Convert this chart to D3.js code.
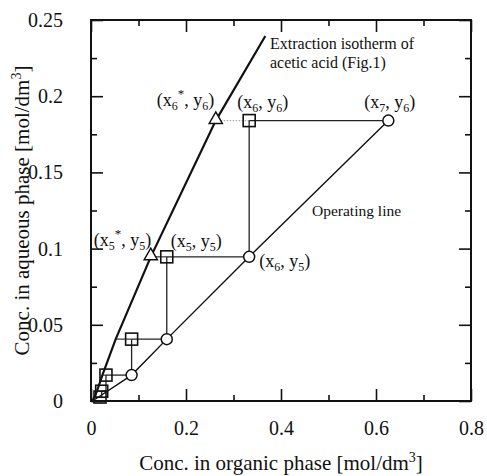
<!DOCTYPE html>
<html>
<head>
<meta charset="utf-8">
<script src="https://cdn.jsdelivr.net/npm/d3@7"></script>
<style>
  body { margin: 0; background: #fff; }
  svg text { font-family: "Liberation Serif", "DejaVu Serif", serif; fill: #111; }
</style>
</head>
<body>
<svg id="chart" width="487" height="476"></svg>
<script>
// staircase rows, top to bottom
const stepY = [0.184, 0.0946, 0.0406, 0.017, 0.0064, 0.0026];
const squareX = [0.333, 0.1595, 0.0855, 0.0315, 0.0225, 0.019];
const circleX = [0.626, 0.333, 0.1595, 0.0855];
const isoStepX = [0.2627, 0.1258, 0.052, 0.024, 0.011, 0.005];
const triangleRows = [0, 1];

// extraction isotherm
const isothermX = [0.003, 0.012, 0.024, 0.052, 0.1258, 0.2627, 0.367];
const isothermY = [0, 0.006, 0.017, 0.0406, 0.0946, 0.184, 0.2395];

// operating line
const operX = [0.008, 0.0855, 0.1595, 0.333, 0.626];
const operY = [0.001, 0.017, 0.0406, 0.0946, 0.184];

const xTicks = [0, 0.2, 0.4, 0.6, 0.8];
const xMinor = [0.1, 0.3, 0.5, 0.7];
const yTicks = [0, 0.05, 0.1, 0.15, 0.2, 0.25];
const yMinor = [0.025, 0.075, 0.125, 0.175, 0.225];

const svg = d3.select('#chart');
const pLeft = 91, pRight = 471, pTop = 20, pBottom = 401;
const serif = '"Liberation Serif", "DejaVu Serif", serif';

const x = d3.scaleLinear().domain([0, 0.8]).range([pLeft, pRight]);
const y = d3.scaleLinear().domain([0, 0.25]).range([pBottom, pTop]);

// axes with inward ticks on all four sides
const fmt = d => d === 0 ? '0' : String(d);
const addAxis = (axis, transform, labels) => {
  const g = svg.append('g').attr('transform', transform).call(axis)
    .attr('font-family', serif).attr('font-size', 20);
  g.select('.domain').remove();
  g.selectAll('line').attr('stroke', '#111').attr('stroke-width', 1.6);
  g.selectAll('text').attr('fill', '#111');
  if (!labels) g.selectAll('text').remove();
  return g;
};

addAxis(d3.axisBottom(x).tickValues(xTicks).tickSize(-12).tickPadding(20).tickFormat(fmt), `translate(0,${pBottom})`, true);
addAxis(d3.axisBottom(x).tickValues(xMinor).tickSize(-6).tickFormat(''), `translate(0,${pBottom})`, false);
addAxis(d3.axisTop(x).tickValues(xTicks).tickSize(-12).tickFormat(''), `translate(0,${pTop})`, false);
addAxis(d3.axisTop(x).tickValues(xMinor).tickSize(-6).tickFormat(''), `translate(0,${pTop})`, false);
addAxis(d3.axisLeft(y).tickValues(yTicks).tickSize(-12).tickPadding(28).tickFormat(fmt), `translate(${pLeft},0)`, true);
addAxis(d3.axisLeft(y).tickValues(yMinor).tickSize(-6).tickFormat(''), `translate(${pLeft},0)`, false);
addAxis(d3.axisRight(y).tickValues(yTicks).tickSize(-12).tickFormat(''), `translate(${pRight},0)`, false);
addAxis(d3.axisRight(y).tickValues(yMinor).tickSize(-6).tickFormat(''), `translate(${pRight},0)`, false);

svg.append('rect')
  .attr('x', pLeft).attr('y', pTop)
  .attr('width', pRight - pLeft).attr('height', pBottom - pTop)
  .attr('fill', 'none').attr('stroke', '#111').attr('stroke-width', 2);

// axis titles
svg.append('text')
  .attr('x', (pLeft + pRight) / 2).attr('y', 470)
  .attr('text-anchor', 'middle').attr('font-size', 21)
  .html('Conc. in organic phase [mol/dm<tspan dy="-8" font-size="14">3</tspan><tspan dy="8">]</tspan>');

svg.append('text')
  .attr('transform', `translate(29,${(pTop + pBottom) / 2}) rotate(-90)`)
  .attr('text-anchor', 'middle').attr('font-size', 21)
  .html('Conc. in aqueous phase [mol/dm<tspan dy="-8" font-size="14">3</tspan><tspan dy="8">]</tspan>');

const line = d3.line().x(d => x(d[0])).y(d => y(d[1]));

// isotherm
svg.append('path')
  .datum(isothermX.map((v, i) => [v, isothermY[i]]))
  .attr('d', line).attr('fill', 'none')
  .attr('stroke', '#111').attr('stroke-width', 2.2);

// operating line
svg.append('path')
  .datum(operX.map((v, i) => [v, operY[i]]))
  .attr('d', line).attr('fill', 'none')
  .attr('stroke', '#111').attr('stroke-width', 1.4);

// staircase
const stairs = svg.append('g').attr('stroke', '#222').attr('stroke-width', 1.3);
stepY.forEach((yy, i) => {
  const rx = i < circleX.length ? circleX[i] : squareX[i - 1];
  stairs.append('line')
    .attr('x1', x(rx)).attr('x2', x(squareX[i]))
    .attr('y1', y(yy)).attr('y2', y(yy));
  // extension to isotherm
  stairs.append('line')
    .attr('x1', x(squareX[i])).attr('x2', x(isoStepX[i]))
    .attr('y1', y(yy)).attr('y2', y(yy))
    .attr('stroke', i === 0 ? '#aaa' : '#222')
    .attr('stroke-dasharray', i === 0 ? '1.5,1.5' : null)
    .attr('stroke-width', i === 0 ? 1.3 : 1.1);
  if (i < stepY.length - 1) {
    stairs.append('line')
      .attr('x1', x(squareX[i])).attr('x2', x(squareX[i]))
      .attr('y1', y(yy)).attr('y2', y(stepY[i + 1]));
  }
});

// markers
svg.append('g').selectAll('circle')
  .data(circleX.map((v, i) => [v, stepY[i]]))
  .join('circle')
  .attr('cx', d => x(d[0])).attr('cy', d => y(d[1])).attr('r', 5.5)
  .attr('fill', '#fff').attr('stroke', '#111').attr('stroke-width', 1.5);

svg.append('g').selectAll('rect')
  .data(squareX.map((v, i) => [v, stepY[i]]).reverse())
  .join('rect')
  .attr('x', d => x(d[0]) - 6).attr('y', d => y(d[1]) - 6)
  .attr('width', 12).attr('height', 12)
  .attr('fill', 'none').attr('stroke', '#111').attr('stroke-width', 1.6);

const tri = d3.symbol().type(d3.symbolTriangle).size(75);
svg.append('g').selectAll('path')
  .data(triangleRows.map(i => [isoStepX[i], stepY[i]]))
  .join('path')
  .attr('d', tri)
  .attr('transform', d => `translate(${x(d[0])},${y(d[1]) - 1})`)
  .attr('fill', '#fff').attr('stroke', '#111').attr('stroke-width', 1.5);

// point labels
const labels = [
  { px: isoStepX[0], py: stepY[0], dx: -59, dy: -15, a: 'x', as: '6', star: true, b: 'y', bs: '6' },
  { px: squareX[0], py: stepY[0], dx: -12, dy: -13, a: 'x', as: '6', star: false, b: 'y', bs: '6' },
  { px: circleX[0], py: stepY[0], dx: -24, dy: -13, a: 'x', as: '7', star: false, b: 'y', bs: '6' },
  { px: isoStepX[1], py: stepY[1], dx: -57, dy: -11, a: 'x', as: '5', star: true, b: 'y', bs: '5' },
  { px: squareX[1], py: stepY[1], dx: 4, dy: -10, a: 'x', as: '5', star: false, b: 'y', bs: '5' },
  { px: circleX[1], py: stepY[1], dx: 10, dy: 10, a: 'x', as: '6', star: false, b: 'y', bs: '5' }
];
labels.forEach(l => {
  const t = svg.append('text')
    .attr('x', x(l.px) + l.dx).attr('y', y(l.py) + l.dy)
    .attr('font-size', 18);
  t.append('tspan').text('(' + l.a);
  t.append('tspan').attr('dy', 4).attr('font-size', 12).text(l.as);
  if (l.star) {
    t.append('tspan').attr('dy', -12).attr('font-size', 13).text('*');
    t.append('tspan').attr('dy', 8).text(', ' + l.b);
  } else {
    t.append('tspan').attr('dy', -4).text(', ' + l.b);
  }
  t.append('tspan').attr('dy', 4).attr('font-size', 12).text(l.bs);
  t.append('tspan').attr('dy', -4).text(')');
});

svg.append('text').attr('x', 270).attr('y', 49).attr('font-size', 16).text('Extraction isotherm of');
svg.append('text').attr('x', 270).attr('y', 68).attr('font-size', 16).text('acetic acid (Fig.1)');
svg.append('text').attr('x', 312).attr('y', 216).attr('font-size', 15.5).text('Operating line');
</script>
</body>
</html>
